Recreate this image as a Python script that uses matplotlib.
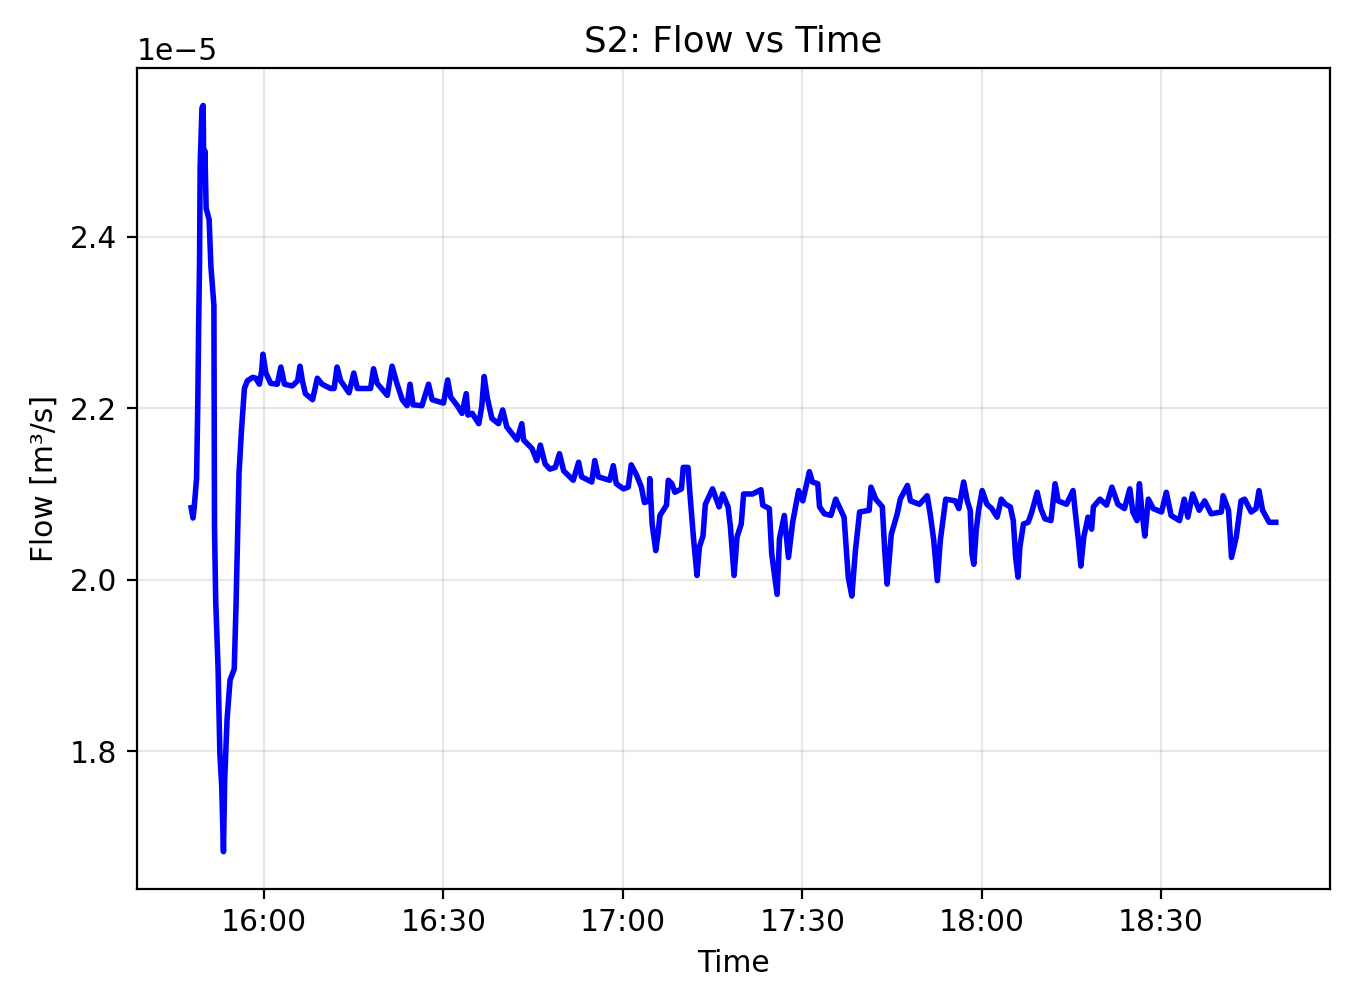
import pandas as pd
import matplotlib
matplotlib.use("Agg")
import matplotlib.pyplot as plt
import matplotlib.dates as mdates

# minutes after 15:00
minutes = [
    47.8, 48.1, 48.3, 48.7, 48.9, 49.05, 49.2, 49.3, 49.6, 49.8, 49.9, 50.1, 50.3, 50.8,
    51.1, 51.6, 51.7, 51.9, 52.3, 52.6, 52.9, 53.2, 53.4, 53.8, 54.3, 55.0, 55.3, 55.6,
    55.8, 56.2, 56.7, 57.2, 58.1, 58.6, 59.2, 59.6, 59.8, 60.3, 61.1, 62.2, 62.8, 63.4,
    64.7, 65.6, 66.0, 66.4, 66.9, 68.1, 68.9, 69.7, 71.1, 71.7, 72.2, 72.8, 74.2, 75.0,
    75.6, 77.8, 78.3, 78.9, 80.6, 81.4, 82.2, 83.1, 83.9, 84.4, 84.9, 86.4, 87.5, 88.1,
    90.0, 90.7, 91.2, 92.3, 93.1, 93.8, 94.1, 94.8, 95.9, 96.4, 96.8, 97.3, 98.1, 99.2,
    99.9, 100.6, 102.3, 103.1, 103.4, 104.8, 105.6, 106.2, 107.0, 107.8, 108.7, 109.4,
    110.1, 111.7, 112.6, 113.1, 114.8, 115.3, 115.9, 117.8, 118.4, 118.9, 120.1, 120.9,
    121.4, 122.3, 123.1, 123.6, 124.4, 124.5, 124.9, 125.5, 125.9, 126.2, 127.3, 127.6,
    128.2, 128.7, 129.8, 130.1, 130.9, 131.2, 131.8, 132.4, 132.8, 133.4, 133.8, 135.0,
    136.1, 136.7, 137.6, 138.0, 138.6, 139.1, 139.8, 140.2, 141.7, 143.1, 143.4, 144.5,
    144.9, 145.8, 146.2, 147.0, 147.7, 148.4, 149.4, 150.1, 151.2, 151.7, 152.6, 152.9,
    153.7, 154.8, 155.6, 157.0, 157.7, 158.3, 158.9, 159.6, 161.2, 161.5, 162.3, 163.4,
    163.8, 164.2, 164.9, 165.9, 166.4, 167.6, 168.1, 169.6, 170.9, 171.4, 172.0, 172.6,
    173.1, 174.0, 175.6, 176.2, 177.0, 177.6, 178.1, 178.4, 178.7, 179.1, 179.5, 180.1,
    180.9, 181.7, 182.6, 183.3, 184.0, 184.8, 185.3, 185.7, 186.1, 186.4, 187.0, 187.8,
    188.4, 189.3, 189.9, 190.6, 191.6, 192.3, 192.8, 194.2, 195.3, 195.7, 196.2, 196.6,
    197.1, 197.8, 198.4, 198.7, 199.8, 200.9, 201.8, 202.8, 203.9, 204.8, 205.3, 206.0,
    206.4, 206.8, 207.3, 207.9, 208.7, 210.1, 210.9, 211.7, 213.1, 213.9, 214.5, 215.3,
    216.4, 217.3, 218.4, 220.1, 220.4, 221.3, 221.6, 221.8, 222.6, 223.4, 224.0, 225.1,
    225.9, 226.4, 227.0, 228.1, 229.2,
]

# flow in units of 1e-5 m3/s
flow = [
    2.084, 2.072, 2.084, 2.118, 2.204, 2.297, 2.371, 2.482, 2.550, 2.553, 2.480, 2.500, 2.433, 2.420,
    2.365, 2.320, 2.062, 1.976, 1.896, 1.797, 1.760, 1.683, 1.766, 1.837, 1.883, 1.896, 1.970, 2.065,
    2.124, 2.173, 2.223, 2.232, 2.236, 2.235, 2.228, 2.244, 2.263, 2.241, 2.229, 2.228, 2.248, 2.228,
    2.226, 2.232, 2.249, 2.232, 2.217, 2.210, 2.235, 2.228, 2.223, 2.223, 2.248, 2.232, 2.218, 2.241,
    2.223, 2.223, 2.246, 2.229, 2.215, 2.249, 2.229, 2.210, 2.203, 2.228, 2.204, 2.203, 2.228, 2.210,
    2.206, 2.233, 2.213, 2.203, 2.194, 2.217, 2.192, 2.194, 2.182, 2.202, 2.237, 2.213, 2.188, 2.182,
    2.198, 2.178, 2.163, 2.182, 2.163, 2.153, 2.139, 2.157, 2.135, 2.129, 2.131, 2.147,
    2.127, 2.116, 2.137, 2.120, 2.114, 2.139, 2.120, 2.116, 2.133, 2.112, 2.106, 2.108,
    2.134, 2.122, 2.108, 2.090, 2.092, 2.118, 2.065, 2.034, 2.054, 2.075, 2.087, 2.116,
    2.112, 2.102, 2.106, 2.131, 2.131, 2.102, 2.050, 2.005, 2.038, 2.051, 2.088, 2.106,
    2.085, 2.100, 2.085, 2.061, 2.005, 2.050, 2.065, 2.100, 2.100, 2.105, 2.087, 2.083,
    2.030, 1.983, 2.048, 2.075, 2.026, 2.067, 2.104, 2.092, 2.126, 2.114, 2.112, 2.085,
    2.077, 2.075, 2.094, 2.073, 2.003, 1.981, 2.034, 2.079, 2.081, 2.108, 2.094, 2.085,
    2.034, 1.995, 2.053, 2.077, 2.094, 2.110, 2.092, 2.088, 2.098, 2.077, 2.046, 1.999,
    2.046, 2.094, 2.092, 2.083, 2.114, 2.092, 2.081, 2.030, 2.018, 2.057, 2.081, 2.104,
    2.088, 2.083, 2.073, 2.094, 2.088, 2.085, 2.069, 2.026, 2.003, 2.038, 2.065, 2.067,
    2.079, 2.102, 2.083, 2.071, 2.069, 2.112, 2.092, 2.088, 2.104, 2.077, 2.046, 2.016,
    2.050, 2.073, 2.059, 2.085, 2.094, 2.087, 2.108, 2.088, 2.083, 2.106, 2.079, 2.069,
    2.112, 2.081, 2.051, 2.094, 2.083, 2.079, 2.102, 2.075, 2.069, 2.094, 2.073, 2.100,
    2.081, 2.092, 2.077, 2.079, 2.098, 2.081, 2.050, 2.026, 2.050, 2.092, 2.094, 2.079,
    2.083, 2.104, 2.081, 2.067, 2.067,
]

t0 = pd.Timestamp("2024-01-01 15:00")
times = t0 + pd.to_timedelta(minutes, unit="min")
q = [v * 1e-5 for v in flow]

plt.rcParams["font.size"] = 10.7

fig, ax = plt.subplots(figsize=(6.76, 5.01), dpi=200)
fig.subplots_adjust(left=0.1013, right=0.9837, top=0.932, bottom=0.1128)

ax.plot(times, q, color="blue", linewidth=2)
ax.set_title("S2: Flow vs Time", fontsize=12.8)
ax.set_xlabel("Time")
ax.set_ylabel("Flow [m³/s]")
ax.grid(True, alpha=0.3)

ax.xaxis.set_major_locator(mdates.MinuteLocator(byminute=[0, 30]))
ax.xaxis.set_major_formatter(mdates.DateFormatter("%H:%M"))

fig.savefig("out.png", dpi=200)
